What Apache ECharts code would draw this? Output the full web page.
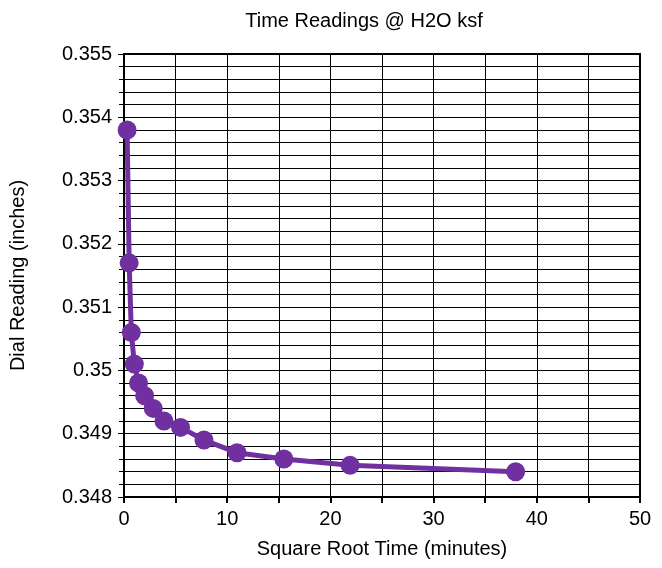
<!DOCTYPE html>
<html>
<head>
<meta charset="utf-8">
<script src="https://cdn.jsdelivr.net/npm/echarts@6/dist/echarts.min.js"></script>
<style>
  html, body { margin: 0; padding: 0; background: #fff; }
  #chart { width: 662px; height: 568px; }
</style>
</head>
<body>
<div id="chart"></div>
<script>
// square root of elapsed time (minutes) and dial readings (inches)
var sqrtTime = [0.3, 0.5, 0.71, 1.0, 1.41, 2.0, 2.83, 3.87, 5.48, 7.75, 10.95, 15.49, 21.91, 37.95]
var dialReading = [0.3538, 0.3517, 0.3506, 0.3501, 0.3498, 0.3496, 0.3494, 0.3492, 0.3491, 0.3489, 0.3487, 0.3486, 0.3485, 0.3484]

var points = sqrtTime.map(function (t, i) { return [t, dialReading[i]] })

var font = 'Liberation Sans, Arial, sans-serif'
var myChart = echarts.init(document.getElementById('chart'))

myChart.setOption({
    animation: false,
    title: {
        text: 'Time Readings @ H2O ksf',
        left: 359,
        top: 6,
        textAlign: 'center',
        textStyle: { fontFamily: font, fontSize: 20, fontWeight: 'normal', color: '#000' }
    },
    grid: {
        left: 122,
        right: 22,
        top: 54,
        bottom: 71,
        show: true,
        borderColor: '#000',
        borderWidth: 2
    },
    xAxis: {
        type: 'value',
        min: 0,
        max: 50,
        interval: 10,
        name: 'Square Root Time (minutes)',
        nameLocation: 'middle',
        nameGap: 42,
        nameTextStyle: { fontFamily: font, fontSize: 20, color: '#000' },
        axisLine: { show: true, lineStyle: { color: '#000', width: 2 } },
        axisTick: { show: true, length: 6, lineStyle: { color: '#000', width: 2 } },
        minorTick: { show: true, splitNumber: 2, length: 6, lineStyle: { color: '#000', width: 2 } },
        axisLabel: { fontFamily: font, fontSize: 20, color: '#000', margin: 12 },
        splitLine: { show: true, lineStyle: { color: '#000', width: 1 } },
        minorSplitLine: { show: true, lineStyle: { color: '#000', width: 1 } }
    },
    yAxis: {
        type: 'value',
        min: 0.348,
        max: 0.355,
        interval: 0.001,
        name: 'Dial Reading (inches)',
        nameLocation: 'middle',
        nameGap: 96,
        nameTextStyle: { fontFamily: font, fontSize: 20, color: '#000' },
        axisLine: { show: true, lineStyle: { color: '#000', width: 2 } },
        axisTick: { show: true, length: 6, lineStyle: { color: '#000', width: 1 } },
        minorTick: { show: true, splitNumber: 5, length: 5, lineStyle: { color: '#000', width: 1 } },
        axisLabel: {
            fontFamily: font, fontSize: 20, color: '#000', margin: 12,
            formatter: function (v) { return String(parseFloat(v.toFixed(4))) }
        },
        splitLine: { show: true, lineStyle: { color: '#000', width: 1 } },
        minorSplitLine: { show: true, lineStyle: { color: '#000', width: 1 } }
    },
    series: [
        {
            type: 'line',
            data: points,
            symbol: 'circle',
            symbolSize: 19,
            lineStyle: { color: '#7030A0', width: 5 },
            itemStyle: { color: '#7030A0' }
        }
    ]
})
</script>
</body>
</html>
